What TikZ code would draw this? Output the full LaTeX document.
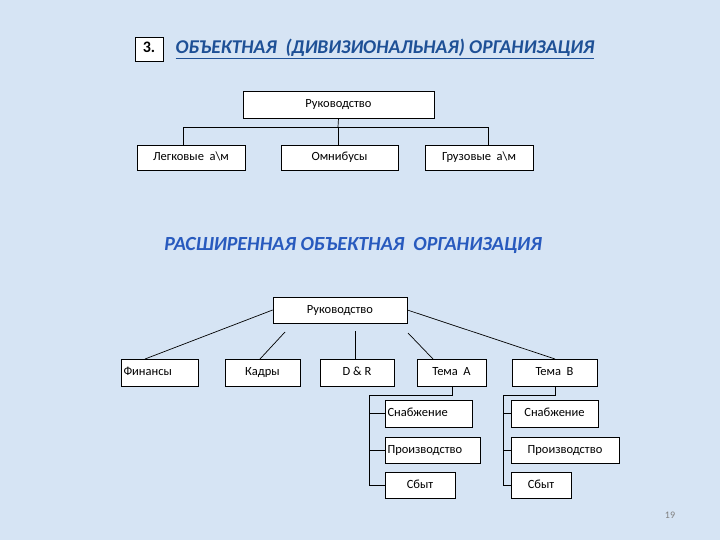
\documentclass[tikz,border=0pt]{standalone}
\usepackage{fontspec}
\setmainfont{Carlito}
\begin{document}
\begin{tikzpicture}[x=1pt,y=-1pt,
  box/.style={draw=black,fill=white,line width=0.7pt,inner sep=0pt,text height=9pt,text depth=2.5pt,font=\fontsize{12.5}{14}\selectfont},
  ln/.style={draw=black,line width=0.7pt}]
\definecolor{bg}{RGB}{214,228,244}
\definecolor{ttl}{RGB}{30,80,150}
\definecolor{ttl2}{RGB}{40,90,190}
\fill[bg] (0,0) rectangle (720,540);
\useasboundingbox (0,0) rectangle (720,540);
% titles
\node[box,minimum width=28,minimum height=24,font=\fontsize{16}{18}\selectfont\bfseries] (n3) at (149,49) {3.};
\node[anchor=west,text=ttl,font=\fontsize{19.5}{22}\selectfont\bfseries\itshape] (t1) at (172,49) {\underline{ОБЪЕКТНАЯ\ \ (ДИВИЗИОНАЛЬНАЯ) ОРГАНИЗАЦИЯ}};
\node[text=ttl2,font=\fontsize{20}{22}\selectfont\bfseries\itshape] (t2) at (353,245) {РАСШИРЕННАЯ ОБЪЕКТНАЯ\ \ ОРГАНИЗАЦИЯ};
% top chart
\node[box,minimum width=191,minimum height=27] (r1) at (338.5,104.5) {Руководство};
\node[box,minimum width=108,minimum height=25] (a1) at (191,157.5) {Легковые\ \ а\textbackslash м};
\node[box,minimum width=117,minimum height=25] (a2) at (339.5,157.5) {Омнибусы};
\node[box,minimum width=108,minimum height=25] (a3) at (479,157.5) {Грузовые\ \ а\textbackslash м};
\coordinate (h1) at (338,127);
\draw[ln] (r1.south) -- (h1);
\draw[ln] (183,145) -- (183,127) -- (488,127) -- (488,145);
\draw[ln] (h1) -- (a2.north -| h1);
% bottom chart
\node[box,minimum width=134,minimum height=26] (r2) at (340,310) {Руководство};
\node[box,minimum width=77,minimum height=27,text width=72,align=left] (b1) at (159.5,372.5) {Финансы};
\node[box,minimum width=75,minimum height=27] (b2) at (262.5,372.5) {Кадры};
\node[box,minimum width=74,minimum height=27] (b3) at (357,372.5) {D \& R};
\node[box,minimum width=69,minimum height=27] (b4) at (451.5,372.5) {Тема\ \ А};
\node[box,minimum width=85,minimum height=27] (b5) at (554.5,372.5) {Тема\ \ В};
\draw[ln] (r2.west) -- (145,359);
\draw[ln] (285,332) -- (260,359);
\draw[ln] (355,331) -- (355,359);
\draw[ln] (408,333) -- (433,359);
\draw[ln] (r2.east) -- (555,359);
% sub A
\node[box,minimum width=87,minimum height=27,text width=82,align=left] (c1) at (428.5,413.5) {Снабжение};
\node[box,minimum width=95,minimum height=26,text width=90,align=left] (c2) at (432.5,450) {Производство};
\node[box,minimum width=70,minimum height=26] (c3) at (420,485) {Сбыт};
\draw[ln] (452,386) -- (452,395) -- (369,395) -- (369,485) -- (c3.west);
\draw[ln] (369,413.5) -- (c1.west);
\draw[ln] (369,450) -- (c2.west);
% sub B
\node[box,minimum width=87,minimum height=27] (d1) at (554.5,413.5) {Снабжение};
\node[box,minimum width=108,minimum height=26] (d2) at (565,450) {Производство};
\node[box,minimum width=60,minimum height=26] (d3) at (541,485) {Сбыт};
\draw[ln] (555,386) -- (555,395) -- (503,395) -- (503,485) -- (d3.west);
\draw[ln] (503,413.5) -- (d1.west);
\draw[ln] (503,450) -- (d2.west);
\node[text=gray,font=\fontsize{10}{12}\selectfont] (pg) at (670,515) {19};
\end{tikzpicture}
\end{document}
